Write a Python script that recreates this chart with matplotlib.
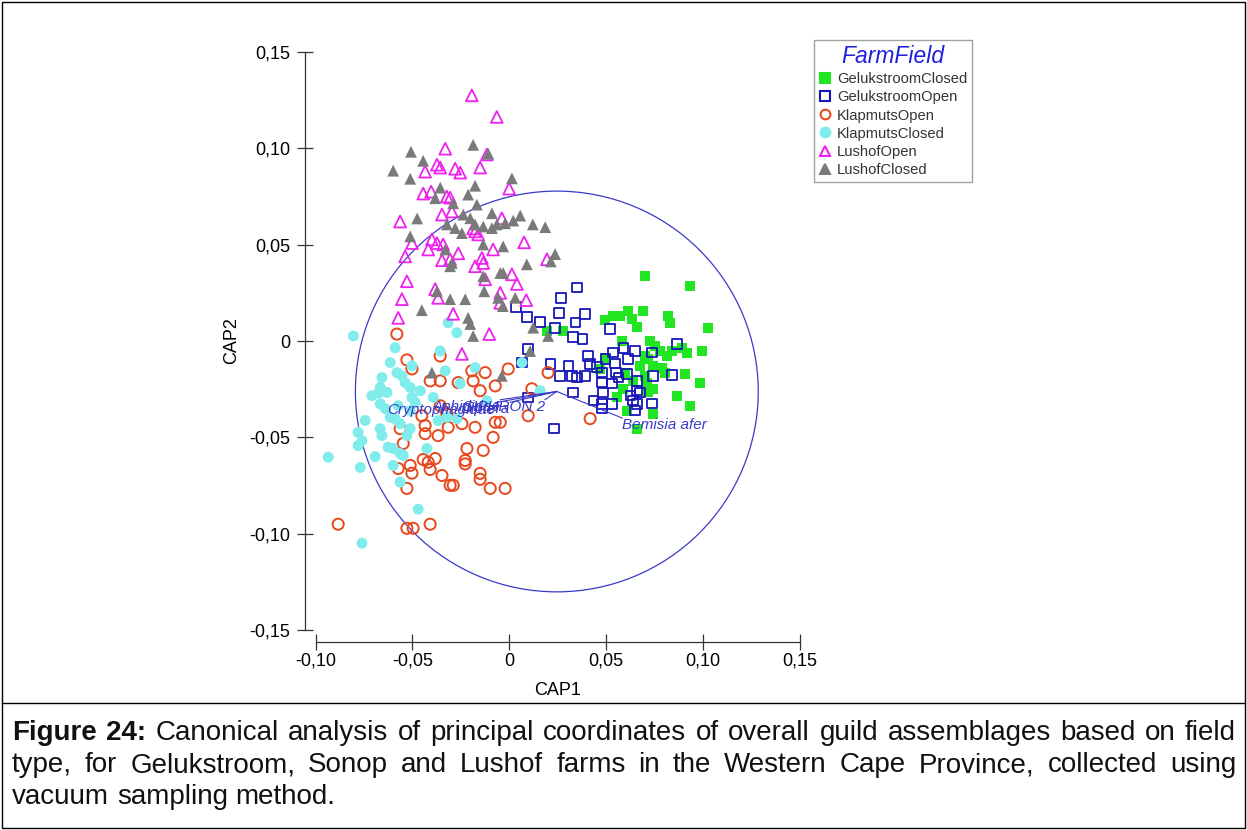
import matplotlib
matplotlib.use('Agg')
import matplotlib.pyplot as plt
from matplotlib.patches import Circle, Rectangle
from matplotlib.lines import Line2D
from matplotlib.ticker import FuncFormatter

plt.rcParams['font.family'] = ['Liberation Sans', 'DejaVu Sans']

# Datos (CAP1, CAP2) por grupo
geluk_closed_x = [0.0702, 0.0934, 0.1029, 0.0496, 0.0537, 0.0573, 0.0614, 0.0633, 0.0659, 0.0690,
                  0.0821, 0.0831, 0.0279, 0.0195, 0.0582, 0.0728, 0.0780, 0.0814, 0.0840, 0.0892,
                  0.0702, 0.0718, 0.0743, 0.0917, 0.0995, 0.0496, 0.0470, 0.0788, 0.0805, 0.0702,
                  0.0711, 0.0909, 0.0986, 0.0640, 0.0589, 0.0556, 0.0718, 0.0743, 0.0866, 0.0934,
                  0.0608, 0.0743, 0.0659, 0.0754, 0.0676, 0.0599]
geluk_closed_y = [0.0336, 0.0284, 0.0069, 0.0109, 0.0129, 0.0129, 0.0155, 0.0114, 0.0072, 0.0155,
                  0.0129, 0.0095, 0.0052, 0.0052, 0.0000, 0.0000, -0.0052, -0.0078, -0.0052, -0.0035,
                  -0.0078, -0.0093, -0.0129, -0.0060, -0.0052, -0.0086, -0.0145, -0.0138, -0.0164, -0.0181,
                  -0.0216, -0.0171, -0.0216, -0.0207, -0.0248, -0.0293, -0.0267, -0.0248, -0.0284, -0.0336,
                  -0.0362, -0.0377, -0.0455, -0.0026, -0.0129, -0.0166]

geluk_open_x = [0.0350, 0.0268, 0.0036, 0.0091, 0.0258, 0.0160, 0.0341, 0.0392, 0.0237, 0.0330,
                0.0380, 0.0521, 0.0098, 0.0066, 0.0212, 0.0263, 0.0305, 0.0324, 0.0350, 0.0392,
                0.0408, 0.0418, 0.0453, 0.0479, 0.0496, 0.0537, 0.0547, 0.0552, 0.0563, 0.0589,
                0.0614, 0.0608, 0.0650, 0.0659, 0.0737, 0.0866, 0.0743, 0.0840, 0.0479, 0.0530,
                0.0659, 0.0676, 0.0485, 0.0330, 0.0434, 0.0479, 0.0530, 0.0625, 0.0640, 0.0659,
                0.0650, 0.0737, 0.0479, 0.0098, 0.0232]
geluk_open_y = [0.0279, 0.0224, 0.0176, 0.0124, 0.0146, 0.0098, 0.0095, 0.0140, 0.0067, 0.0021,
                0.0010, 0.0062, -0.0041, -0.0112, -0.0119, -0.0181, -0.0129, -0.0181, -0.0190, -0.0181,
                -0.0078, -0.0119, -0.0134, -0.0164, -0.0093, -0.0060, -0.0117, -0.0164, -0.0190, -0.0036,
                -0.0093, -0.0171, -0.0052, -0.0207, -0.0060, -0.0016, -0.0181, -0.0176, -0.0216, -0.0222,
                -0.0258, -0.0267, -0.0267, -0.0267, -0.0310, -0.0326, -0.0326, -0.0284, -0.0310, -0.0326,
                -0.0362, -0.0324, -0.0351, -0.0293, -0.0455]

klap_open_x = [-0.0580, -0.0528, -0.0356, -0.0502, -0.0408, -0.0356, -0.0193, -0.0124, -0.0005, -0.0263,
               -0.0186, -0.0150, -0.0072, 0.0201, 0.0117, -0.0451, -0.0356, -0.0322, -0.0434, -0.0434,
               -0.0367, -0.0563, -0.0315, -0.0244, -0.0176, -0.0072, -0.0046, -0.0083, 0.0098, -0.0547,
               -0.0218, -0.0134, -0.0227, -0.0227, -0.0444, -0.0382, -0.0408, -0.0418, -0.0573, -0.0511,
               -0.0502, -0.0347, -0.0150, -0.0150, -0.0305, -0.0289, -0.0098, -0.0021, -0.0528, -0.0883,
               -0.0528, -0.0496, -0.0408, 0.0418]
klap_open_y = [0.0036, -0.0098, -0.0078, -0.0145, -0.0207, -0.0207, -0.0155, -0.0164, -0.0145, -0.0216,
               -0.0207, -0.0258, -0.0233, -0.0164, -0.0248, -0.0388, -0.0336, -0.0377, -0.0439, -0.0481,
               -0.0491, -0.0455, -0.0448, -0.0429, -0.0448, -0.0422, -0.0422, -0.0500, -0.0388, -0.0532,
               -0.0558, -0.0568, -0.0620, -0.0638, -0.0615, -0.0610, -0.0667, -0.0629, -0.0662, -0.0646,
               -0.0686, -0.0698, -0.0687, -0.0718, -0.0749, -0.0749, -0.0765, -0.0765, -0.0765, -0.0951,
               -0.0972, -0.0972, -0.0951, -0.0403]

klap_closed_x = [-0.0804, -0.0315, -0.0270, -0.0589, -0.0614, -0.0580, -0.0554, -0.0502, -0.0657, -0.0666,
                 -0.0631, -0.0537, -0.0511, -0.0502, -0.0485, -0.0459, -0.0709, -0.0666, -0.0640, -0.0356,
                 -0.0330, -0.0253, -0.0176, -0.0115, -0.0392, -0.0614, -0.0589, -0.0511, -0.0528, -0.0563,
                 -0.0367, -0.0322, -0.0270, -0.0666, -0.0657, -0.0780, -0.0760, -0.0780, -0.0625, -0.0599,
                 -0.0563, -0.0547, -0.0425, -0.0934, -0.0769, -0.0599, -0.0563, -0.0470, -0.0760, 0.0066,
                 0.0160, -0.0511, -0.0573, -0.0743, -0.0692, -0.0675]
klap_closed_y = [0.0026, 0.0095, 0.0043, -0.0035, -0.0112, -0.0164, -0.0181, -0.0129, -0.0190, -0.0241,
                 -0.0267, -0.0216, -0.0241, -0.0293, -0.0319, -0.0258, -0.0284, -0.0326, -0.0351, -0.0052,
                 -0.0155, -0.0221, -0.0138, -0.0310, -0.0293, -0.0396, -0.0403, -0.0455, -0.0491, -0.0429,
                 -0.0413, -0.0396, -0.0403, -0.0455, -0.0491, -0.0474, -0.0517, -0.0543, -0.0551, -0.0558,
                 -0.0584, -0.0594, -0.0558, -0.0603, -0.0656, -0.0646, -0.0732, -0.0873, -0.1049, -0.0112,
                 -0.0258, -0.0362, -0.0336, -0.0413, -0.0600, -0.0270]

lush_open_x = [-0.0193, -0.0064, -0.0330, -0.0115, -0.0373, -0.0356, -0.0434, -0.0279, -0.0253, -0.0150,
               -0.0444, -0.0403, -0.0322, -0.0305, 0.0000, -0.0347, -0.0296, -0.0563, -0.0038, -0.0186,
               -0.0176, -0.0160, -0.0502, -0.0399, -0.0373, -0.0341, -0.0418, 0.0077, -0.0537, -0.0347,
               -0.0305, -0.0263, -0.0141, -0.0176, -0.0134, -0.0083, 0.0195, -0.0528, -0.0382, -0.0367,
               0.0014, 0.0040, -0.0124, -0.0554, -0.0289, -0.0046, -0.0046, 0.0088, -0.0573, -0.0103,
               -0.0244]
lush_open_y = [0.1275, 0.1163, 0.0998, 0.0968, 0.0915, 0.0900, 0.0879, 0.0894, 0.0874, 0.0900,
               0.0765, 0.0775, 0.0750, 0.0744, 0.0791, 0.0656, 0.0672, 0.0620, 0.0637, 0.0584,
               0.0569, 0.0553, 0.0508, 0.0527, 0.0508, 0.0501, 0.0475, 0.0512, 0.0439, 0.0419,
               0.0424, 0.0455, 0.0431, 0.0388, 0.0405, 0.0475, 0.0424, 0.0310, 0.0269, 0.0224,
               0.0346, 0.0296, 0.0320, 0.0217, 0.0141, 0.0250, 0.0198, 0.0212, 0.0120, 0.0036,
               -0.0067]

lush_closed_x = [-0.0186, -0.0108, -0.0507, -0.0444, -0.0599, -0.0511, -0.0356, -0.0176, -0.0212, -0.0382,
                 -0.0289, 0.0014, -0.0167, -0.0475, -0.0089, -0.0237, -0.0201, 0.0057, 0.0021, -0.0021,
                 -0.0064, -0.0089, 0.0122, 0.0186, -0.0511, -0.0134, -0.0176, -0.0244, -0.0279, -0.0322,
                 -0.0031, -0.0134, -0.0330, 0.0237, 0.0215, 0.0091, -0.0296, -0.0305, -0.0046, -0.0031,
                 -0.0134, -0.0129, -0.0373, -0.0305, -0.0227, -0.0451, 0.0031, -0.0033, -0.0057, -0.0212,
                 -0.0201, -0.0186, 0.0124, 0.0201, 0.0108, -0.0399, -0.0038]
lush_closed_y = [0.1018, 0.0972, 0.0982, 0.0935, 0.0884, 0.0842, 0.0796, 0.0806, 0.0760, 0.0741,
                 0.0715, 0.0844, 0.0708, 0.0636, 0.0663, 0.0656, 0.0637, 0.0651, 0.0625, 0.0611,
                 0.0605, 0.0586, 0.0605, 0.0591, 0.0543, 0.0594, 0.0605, 0.0560, 0.0586, 0.0605,
                 0.0491, 0.0501, 0.0475, 0.0451, 0.0413, 0.0398, 0.0405, 0.0388, 0.0353, 0.0353,
                 0.0336, 0.0258, 0.0258, 0.0217, 0.0217, 0.0160, 0.0224, 0.0181, 0.0224, 0.0120,
                 0.0088, 0.0026, 0.0069, 0.0026, -0.0052, -0.0164, -0.0181]

# Vectores (origen común) y círculo de correlación
vector_origin = (0.0246, -0.0262)
vector_names = ['Cryptophagidae', 'Aphididae', 'Diptera', 'SIPHRON 2', 'Bemisia afer']
vector_end_x = [-0.0072, -0.0046, 0.0005, 0.0185, 0.0584]
vector_end_y = [-0.0320, -0.0305, -0.0318, -0.0305, -0.0400]
circle_radius = 0.104

x_ticks = [-0.10, -0.05, 0, 0.05, 0.10, 0.15]
y_ticks = [-0.15, -0.10, -0.05, 0, 0.05, 0.10, 0.15]

caption_lines = [
    'Figure 24: Canonical analysis of principal coordinates of overall guild assemblages based on field',
    'type, for Gelukstroom, Sonop and Lushof farms in the Western Cape Province, collected using',
    'vacuum sampling method.',
]

W, H = 1247, 830
fig = plt.figure(figsize=(W / 100, H / 100), dpi=100)
ax = fig.add_axes([315.5 / W, 1 - 630 / H, (799.7 - 315.5) / W, (630 - 52) / H])

groups = [
    ('GelukstroomClosed', geluk_closed_x, geluk_closed_y, dict(marker='s', s=52, c='#22E622', edgecolors='none')),
    ('GelukstroomOpen', geluk_open_x, geluk_open_y, dict(marker='s', s=46, facecolors='none', edgecolors='#1616B8', linewidths=1.3)),
    ('KlapmutsOpen', klap_open_x, klap_open_y, dict(marker='o', s=64, facecolors='none', edgecolors='#E8481E', linewidths=1.4)),
    ('KlapmutsClosed', klap_closed_x, klap_closed_y, dict(marker='o', s=62, c='#80ECEC', edgecolors='none')),
    ('LushofOpen', lush_open_x, lush_open_y, dict(marker='^', s=72, facecolors='none', edgecolors='#EE22EE', linewidths=1.3)),
    ('LushofClosed', lush_closed_x, lush_closed_y, dict(marker='^', s=72, c='#7A7A7A', edgecolors='none')),
]
handles = []
for name, xs, ys, kw in groups:
    ax.scatter(xs, ys, zorder=3, **kw)
    # Marcadores del legend un poco más pequeños
    face = kw.get('c', 'none')
    edge = kw['edgecolors'] if kw['edgecolors'] != 'none' else face
    handles.append(Line2D([], [], ls='none', marker=kw['marker'], markersize=7,
                          markerfacecolor=face, markeredgecolor=edge, markeredgewidth=1.5, label=name))

# Círculo y vectores
ax.add_patch(Circle(vector_origin, circle_radius, fill=False, ec='#3A3AC8', lw=0.9, zorder=2))
for name, ex, ey in zip(vector_names, vector_end_x, vector_end_y):
    ax.plot([vector_origin[0], ex], [vector_origin[1], ey], color='#3A3AC8', lw=0.8, zorder=4)
    ha = 'left' if ex > vector_origin[0] else 'right'
    ax.text(ex, ey, name, ha=ha, va='top', fontsize=11, style='italic', color='#3A3AC8', zorder=5)

ax.set_xlim(-0.10, 0.15)
ax.set_ylim(-0.15, 0.15)
ax.set_xticks(x_ticks)
ax.set_yticks(y_ticks)
fmt = FuncFormatter(lambda v, p: '0' if abs(v) < 1e-9 else f'{v:.2f}'.replace('.', ','))
ax.xaxis.set_major_formatter(fmt)
ax.yaxis.set_major_formatter(fmt)
for side in ['top', 'right']:
    ax.spines[side].set_visible(False)
ax.spines['left'].set_position(('outward', 7.5))
ax.spines['bottom'].set_position(('outward', 8.5))
for side in ['left', 'bottom']:
    ax.spines[side].set_color('#333333')
    ax.spines[side].set_linewidth(0.9)
ax.tick_params(axis='y', direction='inout', length=11, width=0.9, color='#333333', labelsize=13, pad=5)
ax.tick_params(axis='x', direction='inout', length=11, width=0.9, color='#333333', labelsize=13, pad=2.5)
ax.set_xlabel('CAP1', fontsize=13, labelpad=9)
ax.set_ylabel('CAP2', fontsize=13, labelpad=7)
ax.patch.set_visible(False)

leg = fig.legend(handles=handles, loc='upper left', bbox_to_anchor=(814 / W, 1 - 40 / H),
                 title='FarmField', fontsize=10.6, frameon=True, fancybox=False,
                 handlelength=0.8, handletextpad=0.4, borderpad=0.35, labelspacing=0.28,
                 borderaxespad=0)
leg.get_title().set_fontsize(16.5)
leg.get_title().set_style('italic')
leg.get_title().set_color('#2020E0')
leg.get_frame().set_edgecolor('#888888')
leg.get_frame().set_linewidth(1.0)
for t in leg.get_texts():
    t.set_color('#333333')

# Marco y línea separadora del pie de figura
fig.patches.append(Rectangle((2 / W, 2 / H), (W - 4) / W, (H - 4) / H, transform=fig.transFigure,
                             fill=False, ec='black', lw=1.0))
fig.lines.append(Line2D([2 / W, (W - 2) / W], [1 - 703 / H, 1 - 703 / H], transform=fig.transFigure,
                        color='black', lw=1.0))

# Pie de figura justificado; el tamaño se ajusta para que la primera línea llene el ancho
renderer = fig.canvas.get_renderer()
x0, x1 = 12, 1236
probe = fig.text(0, 0, caption_lines[0], fontsize=16)
cap_size = 16 * (x1 - x0 - 25) / probe.get_window_extent(renderer).width
probe.remove()
line_y = [733, 765, 797]
for i, line in enumerate(caption_lines):
    words = line.split(' ')
    texts = []
    for j, w in enumerate(words):
        bold = (i == 0 and j < 2)
        texts.append(fig.text(0, 1 - line_y[i] / H, w, fontsize=cap_size, va='center', ha='left',
                              fontweight='bold' if bold else 'normal', color='#111111'))
    widths = [t.get_window_extent(renderer).width for t in texts]
    if i < len(caption_lines) - 1:
        gap = ((x1 - x0) - sum(widths)) / (len(words) - 1)
    else:
        gap = cap_size * 100 / 72 * 0.278
    x = x0
    for t, wdt in zip(texts, widths):
        t.set_x(x / W)
        x += wdt + gap

fig.savefig('out.png', dpi=100)
